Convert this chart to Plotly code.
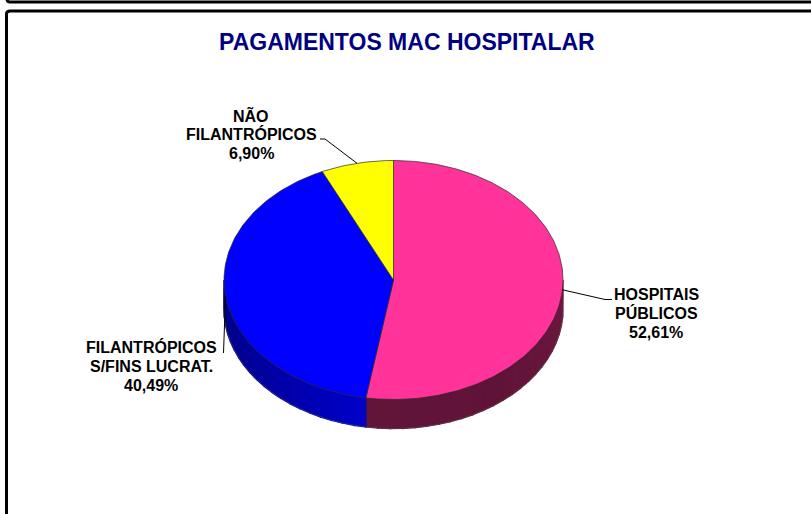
import math
import plotly.graph_objects as go

# Data
category_lines = [["HOSPITAIS", "PÚBLICOS"], ["FILANTRÓPICOS", "S/FINS LUCRAT."], ["NÃO", "FILANTRÓPICOS"]]
percent_labels = ["52,61%", "40,49%", "6,90%"]
values = [52.61, 40.49, 6.90]
top_colors = ["#FF3399", "#0000FF", "#FFFF00"]
title_text = "PAGAMENTOS MAC HOSPITALAR"

# Layout of the tilted pie, in page pixels
W, H = 811, 514
CX, CY, RX, RY, DEPTH = 393.5, 280.0, 169.5, 119.5, 29.0
label_pos = [(656, 313), (151, 366), (251, 134)]
LINE_STEP = 19
leader_elbows = [[(605, 299.5), (612, 299.5)], [(223.5, 353)], [(325, 139), (320, 139)]]
side_shades = [((0x70, 0x18, 0x40), (0x60, 0x13, 0x38), (0x62, 0x14, 0x39)),
               ((0x00, 0x00, 0xC8), (0x00, 0x00, 0xA0), (0x00, 0x00, 0x80)),
               ((0x80, 0x80, 0x00), (0x80, 0x80, 0x00), (0x80, 0x80, 0x00))]


def pt(deg, dy=0.0):
    a = math.radians(deg)
    return CX + RX * math.sin(a), CY - RY * math.cos(a) + dy


def arc(a0, a1, dy=0.0, step=1.0):
    n = max(2, int(abs(a1 - a0) / step) + 1)
    return [pt(a0 + (a1 - a0) * i / (n - 1), dy) for i in range(n)]


def mix(shades, t):
    if t < 0.5:
        a, b, u = shades[0], shades[1], t * 2
    else:
        a, b, u = shades[1], shades[2], (t - 0.5) * 2
    return "rgb(%d,%d,%d)" % tuple(round(a[i] + (b[i] - a[i]) * u) for i in range(3))


def xy(points):
    return [p[0] for p in points], [p[1] for p in points]


fig = go.Figure()
total = sum(values)
edges = [0.0]
for v in values:
    edges.append(edges[-1] + v / total * 360.0)

# Side wall: only the front half (90..270 degrees) shows
for i in range(len(values)):
    lo, hi = max(edges[i], 90.0), min(edges[i + 1], 270.0)
    if hi <= lo:
        continue
    n = max(1, int((hi - lo) / 4))
    for k in range(n):
        a0 = lo + (hi - lo) * k / n
        a1 = lo + (hi - lo) * (k + 1) / n
        poly = arc(a0, a1) + arc(a1, a0, DEPTH)
        x, y = xy(poly + poly[:1])
        col = mix(side_shades[i], (k + 0.5) / n)
        fig.add_trace(go.Scatter(x=x, y=y, mode="lines", fill="toself", fillcolor=col,
                                 line=dict(color=col, width=1.5), hoverinfo="skip"))
    # outer lower rim
    x, y = xy(arc(lo, hi, DEPTH))
    fig.add_trace(go.Scatter(x=x, y=y, mode="lines", line=dict(color="#555555", width=0.5), hoverinfo="skip"))

# Vertical seam in the wall between slices
for a in edges:
    if 90.0 <= a <= 270.0:
        x, y = xy([pt(a), pt(a, DEPTH)])
        fig.add_trace(go.Scatter(x=x, y=y, mode="lines", line=dict(color="#222222", width=0.5), hoverinfo="skip"))

# Top face
for i in range(len(values)):
    poly = [(CX, CY)] + arc(edges[i], edges[i + 1]) + [(CX, CY)]
    x, y = xy(poly)
    fig.add_trace(go.Scatter(x=x, y=y, mode="lines", fill="toself", fillcolor=top_colors[i],
                             line=dict(color="#2a2a2a", width=0.7), hoverinfo="skip"))

# Leader lines and labels
for i in range(len(values)):
    mid = (edges[i] + edges[i + 1]) / 2
    x, y = xy([pt(mid)] + leader_elbows[i])
    fig.add_trace(go.Scatter(x=x, y=y, mode="lines", line=dict(color="#000000", width=1), hoverinfo="skip"))
    lines = category_lines[i] + [percent_labels[i]]
    for j, text in enumerate(lines):
        fig.add_annotation(x=label_pos[i][0], y=label_pos[i][1] + (j - 1) * LINE_STEP, xref="x", yref="y",
                           text="<b>%s</b>" % text, showarrow=False, xanchor="center", yanchor="middle",
                           font=dict(family="Liberation Sans", size=16, color="#000000"))

fig.add_annotation(x=407, y=41.5, xref="x", yref="y", text="<b>%s</b>" % title_text, showarrow=False,
                   xanchor="center", yanchor="middle",
                   font=dict(family="Liberation Sans", size=23, color="#000080"))

# Page frames
frame = dict(type="path", xref="x", yref="y", line=dict(color="#000000", width=3))
fig.add_shape(path="M 7 -3 L 7 -1 Q 7 2 10 2 L 815 2", **frame)
fig.add_shape(path="M 6.5 520 L 6.5 14 Q 6.5 11 10 11 L 815 11", **frame)

fig.update_layout(
    width=W, height=H, margin=dict(l=0, r=0, t=0, b=0),
    paper_bgcolor="white", plot_bgcolor="white", showlegend=False,
    xaxis=dict(range=[0, W], visible=False, fixedrange=True),
    yaxis=dict(range=[H, 0], visible=False, fixedrange=True),
)
fig.write_html("out.html", config=dict(displayModeBar=False),
               post_script="document.body.style.margin='0';document.body.style.overflow='hidden';")
